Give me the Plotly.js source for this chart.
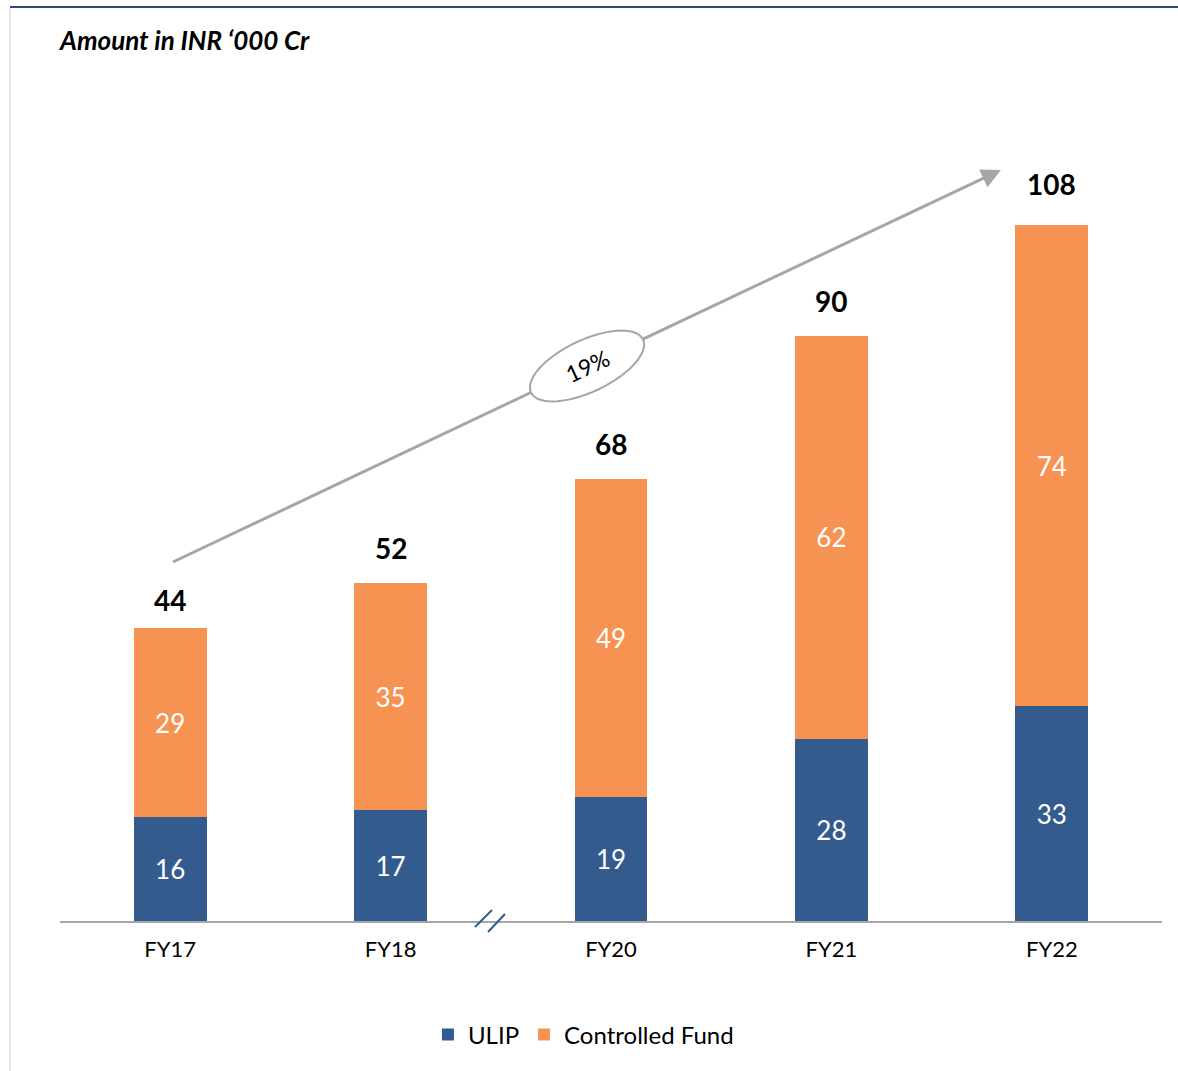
<!DOCTYPE html>
<html>
<head>
<meta charset="utf-8">
<script src="https://cdn.plot.ly/plotly-3.0.1.min.js"></script>
<style>html,body{margin:0;padding:0;background:#fff;}#chart{width:1178px;height:1071px;}</style>
</head>
<body>
<div id="chart"></div>
<script>
const categories = ["FY17", "FY18", "FY20", "FY21", "FY22"];
const ulip = [16, 17, 19, 28, 33];
const controlledFund = [29, 35, 49, 62, 74];
const totals = [44, 52, 68, 90, 108];
const cagrLabel = "19%";
const unitTitle = "Amount in INR \u2018000 Cr";

const W = 1178, H = 1071;
const M = {l: 60, r: 16, t: 100, b: 150};
const PW = W - M.l - M.r, PH = H - M.t - M.b;
const px2x = p => (p - M.l) / PW;
const px2y = p => (H - M.b - p) / PH;

const FONT = "Lato, 'Open Sans', 'Noto Sans', sans-serif";
const BLUE = "#335b8e", ORANGE = "#f69352", GREY = "#a6a6a6";

const traces = [
  {type: "bar", name: "ULIP", x: categories, y: ulip, marker: {color: BLUE},
   text: ulip.map(String), textposition: "inside", insidetextanchor: "middle",
   textfont: {color: "#ffffff", size: 26, family: FONT}, hoverinfo: "none"},
  {type: "bar", name: "Controlled Fund", x: categories, y: controlledFund, marker: {color: ORANGE},
   text: controlledFund.map(String), textposition: "inside", insidetextanchor: "middle",
   textfont: {color: "#ffffff", size: 26, family: FONT}, hoverinfo: "none"}
];

// rotated ellipse decoration for the growth label
const cx = 587, cy = 366, ea = 62, eb = 26, th = Math.atan2(-392, 828);
let path = "";
for (let i = 0; i <= 60; i++) {
  const t = 2 * Math.PI * i / 60;
  const X = cx + ea * Math.cos(t) * Math.cos(th) - eb * Math.sin(t) * Math.sin(th);
  const Y = cy + ea * Math.cos(t) * Math.sin(th) + eb * Math.sin(t) * Math.cos(th);
  path += (i === 0 ? "M " : " L ") + px2x(X).toFixed(5) + "," + px2y(Y).toFixed(5);
}
path += " Z";

const shapes = [
  {type: "line", xref: "paper", yref: "paper", x0: px2x(10), x1: px2x(1178), y0: px2y(7), y1: px2y(7), line: {color: "#2f4a78", width: 2}},
  {type: "line", xref: "paper", yref: "paper", x0: px2x(10), x1: px2x(10), y0: px2y(8), y1: px2y(1071), line: {color: "#e6e6e6", width: 2}},
  {type: "line", xref: "paper", yref: "paper", x0: px2x(173), y0: px2y(562), x1: px2x(534), y1: px2y(391), line: {color: GREY, width: 3}},
  {type: "path", xref: "paper", yref: "paper", path: path, fillcolor: "#ffffff", line: {color: GREY, width: 2}},
  {type: "line", xref: "paper", yref: "paper", x0: px2x(475), y0: px2y(927), x1: px2x(492), y1: px2y(910), line: {color: BLUE, width: 2}},
  {type: "line", xref: "paper", yref: "paper", x0: px2x(488), y0: px2y(932), x1: px2x(505), y1: px2y(914), line: {color: BLUE, width: 2}}
];

const annotations = totals.map((v, i) => ({
  x: categories[i], y: v, xref: "x", yref: "y", text: "<b>" + v + "</b>",
  showarrow: false, yanchor: "bottom", yshift: 16, font: {size: 28, color: "#000", family: FONT}
}));
annotations.push({
  xref: "paper", yref: "paper", x: px2x(1001), y: px2y(170), ax: 641 - 1001, ay: 340 - 170,
  axref: "pixel", ayref: "pixel", text: "", showarrow: true, arrowhead: 2, arrowsize: 1.3,
  arrowwidth: 3, arrowcolor: GREY
});
annotations.push({
  xref: "paper", yref: "paper", x: px2x(cx), y: px2y(cy), text: cagrLabel, showarrow: false,
  textangle: -25, font: {size: 23, color: "#000", family: FONT}, xanchor: "center", yanchor: "middle"
});
annotations.push({
  xref: "paper", yref: "paper", x: px2x(56), y: px2y(40), text: "<b><i>" + unitTitle + "</i></b>",
  showarrow: false, xanchor: "left", yanchor: "middle", font: {size: 26, color: "#000", family: FONT}
});

const layout = {
  width: W, height: H, margin: M, paper_bgcolor: "#fff", plot_bgcolor: "#fff",
  barmode: "stack", bargap: 0.67, showlegend: true,
  font: {family: FONT, color: "#000"},
  xaxis: {type: "category", showgrid: false, zeroline: false, showline: true, linecolor: GREY, linewidth: 2,
          ticks: "", ticklabelstandoff: 8, tickfont: {size: 22, color: "#000", family: FONT}, fixedrange: true},
  yaxis: {range: [0, 126.3], visible: false, showgrid: false, zeroline: false, fixedrange: true},
  legend: {orientation: "h", x: 0.475, xanchor: "center", y: px2y(1035), yanchor: "middle",
           font: {size: 24, color: "#000", family: FONT}, traceorder: "normal", itemwidth: 30},
  shapes: shapes, annotations: annotations
};

Plotly.newPlot("chart", traces, layout, {displayModeBar: false, staticPlot: true});
</script>
</body>
</html>
